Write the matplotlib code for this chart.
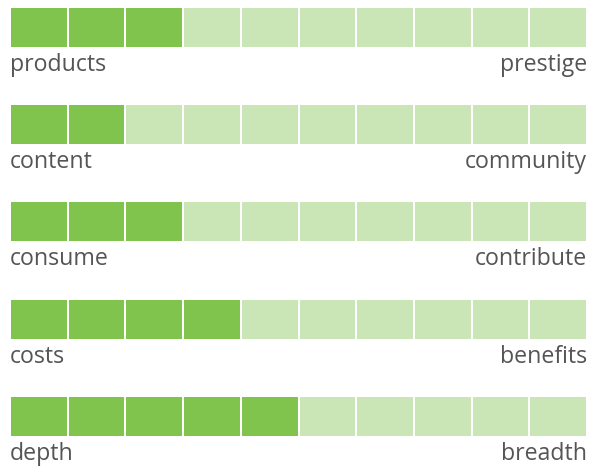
import numpy as np
import matplotlib.pyplot as plt

left_labels = ["products", "content", "consume", "costs", "depth"]
right_labels = ["prestige", "community", "contribute", "benefits", "breadth"]
filled = [3, 2, 3, 4, 5]
n_cells = 10

dark = "#80c34d"
light = "#cbe6b6"

fig = plt.figure(figsize=(5.91, 4.68), dpi=100)
ax = fig.add_axes([0, 0, 1, 1])
ax.set_xlim(0, 591)
ax.set_ylim(468, 0)
ax.axis("off")

x0, pitch, gap = 11, 57.7, 2
top0, row_pitch, h = 8, 97.2, 39

for i in range(len(filled)):
    top = top0 + i * row_pitch
    cols = [dark if j < filled[i] else light for j in range(n_cells)]
    ax.barh(top + h / 2, pitch - gap, left=x0 + np.arange(n_cells) * pitch,
            height=h, color=cols, linewidth=0)
    ax.text(x0 - 1, top + h + 24, left_labels[i], ha="left", va="baseline",
            fontsize=16.7, color="#555555", family="Open Sans")
    ax.text(x0 + n_cells * pitch - gap + 1, top + h + 24, right_labels[i],
            ha="right", va="baseline", fontsize=16.7, color="#555555",
            family="Open Sans")

fig.savefig("out.png", dpi=100)
